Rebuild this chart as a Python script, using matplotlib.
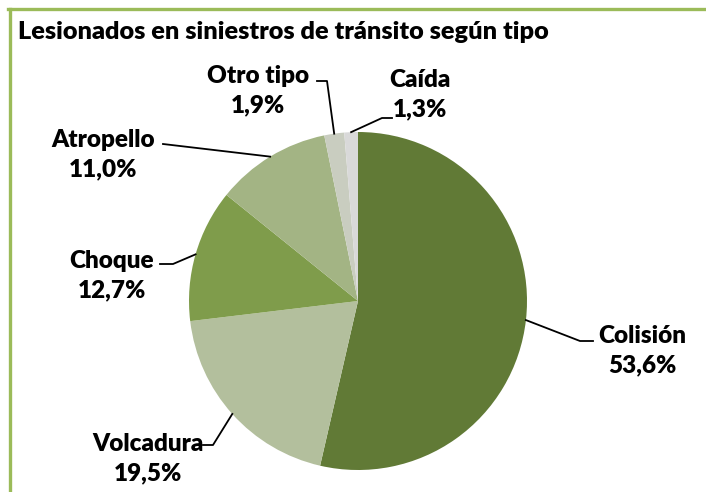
import numpy as np
import matplotlib
matplotlib.use('Agg')
import matplotlib.pyplot as plt
from matplotlib.lines import Line2D

# data
categories = ['Colisión', 'Volcadura', 'Choque', 'Atropello', 'Otro tipo', 'Caída']
values = [53.6, 19.5, 12.7, 11.0, 1.9, 1.3]
colors = ['#617a36', '#b3bf9d', '#7f9c4b', '#a3b484', '#c9cdc0', '#d9d9d9']

# label text centres and elbow points (pixels of the 706x492 canvas)
label_pos = [(642, 351), (148, 459), (112, 276), (103, 155), (258, 91), (420, 95)]
elbows = [[(580, 341), (593, 341)],
          [(213, 445), (203, 445)],
          [(173, 264), (160, 264)],
          [(163, 144)],
          [(327, 81), (317, 81)],
          [(382, 118), (392, 118)]]

W, H = 706, 492
cx, cy, R = 358, 301, 169

plt.rcParams['font.family'] = ['Lato', 'DejaVu Sans']
fig = plt.figure(figsize=(W / 100, H / 100), dpi=100)
ax = fig.add_axes([(cx - R) / W, (H - cy - R) / H, 2 * R / W, 2 * R / H])
wedges, _ = ax.pie(values, colors=colors, startangle=90, counterclock=False,
                   radius=1, wedgeprops=dict(linewidth=0))
ax.set_xlim(-1, 1)
ax.set_ylim(-1, 1)
ax.set_aspect('auto')
ax.axis('off')


def to_data(p):
    return ((p[0] - cx) / R, (cy - p[1]) / R)


for w, name, v, lp, el in zip(wedges, categories, values, label_pos, elbows):
    ang = np.deg2rad((w.theta1 + w.theta2) / 2)
    pts = [(np.cos(ang), np.sin(ang))] + [to_data(p) for p in el]
    xs, ys = zip(*pts)
    ax.plot(xs, ys, color='black', lw=1.3, clip_on=False)
    tx, ty = to_data(lp)
    ax.text(tx, ty, f'{name}\n{v:.1f}%'.replace('.', ','), ha='center', va='center',
            fontsize=17.5, fontweight='heavy', linespacing=1.42)

fig.text(18 / W, 1 - 32 / H, 'Lesionados en siniestros de tránsito según tipo',
         ha='left', va='center', fontsize=18.2, fontweight='heavy')

# green frame
fig.add_artist(Line2D([8 / W, 1], [1 - 9 / H, 1 - 9 / H], color='#9bbb59', lw=2.4))
fig.add_artist(Line2D([9.5 / W, 9.5 / W], [0, 1 - 9 / H], color='#9bbb59', lw=2.4))

fig.savefig('out.png', dpi=100)
